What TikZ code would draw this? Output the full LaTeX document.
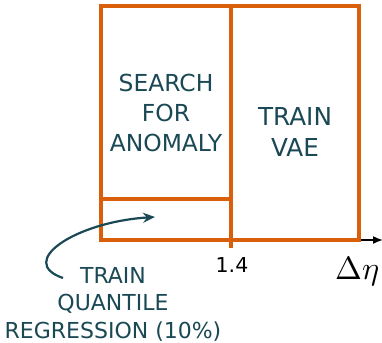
\documentclass[tikz,border=0pt]{standalone}
\usepackage{fontspec}
\setmainfont{DejaVu Sans}
\usetikzlibrary{arrows.meta}
\definecolor{boxorange}{RGB}{217,95,10}
\definecolor{tealtext}{RGB}{26,72,84}
\begin{document}
\begin{tikzpicture}[x=1pt,y=-1pt,
  frame/.style={draw=boxorange,line width=3.2pt},
  label/.style={text=tealtext,align=center,font=\fontsize{23.4}{30}\selectfont,inner sep=0pt},
  lbl/.style={text=tealtext,align=center,font=\fontsize{22}{27.5}\selectfont,inner sep=0pt}]
\useasboundingbox (0,0) rectangle (382,342);
% axis
\coordinate (o) at (101,240);
\coordinate (xend) at (383,240);
\draw[line width=1.6pt,-{Latex[length=10pt,width=8pt]}] (o) -- (xend);
% frames
\coordinate (tl) at (101,6);
\coordinate (br) at (359,240);
\coordinate (mt) at (231,6);
\coordinate (mb) at (231,248);
\coordinate (hl) at (101,199);
\coordinate (hr) at (231,199);
\draw[frame] (tl) rectangle (br);
\draw[frame] (mt) -- (mb);
\draw[frame] (hl) -- (hr);
% texts
\node[label] (search) at (166,113) {SEARCH\\FOR\\ANOMALY};
\node[label,font=\fontsize{24.7}{31}\selectfont] (vae) at (295,132) {TRAIN\\VAE};
\node[lbl] (qr) at (113,304) {TRAIN\\QUANTILE\\REGRESSION (10\%)};
\node[inner sep=0pt,font=\fontsize{20.5}{22}\selectfont] (tick) at (232,265) {1.4};
\node[inner sep=0pt,anchor=base west] (eta) at (335,279) {\resizebox{44pt}{!}{$\Delta\eta$}};
% curved arrow
\coordinate (cs) at (63,278);
\coordinate (ce) at (155,217);
\draw[tealtext,line width=2.2pt,-{Stealth[length=12pt,width=10pt]}] (cs) .. controls (16,262) and (75,222) .. (ce);
\end{tikzpicture}
\end{document}
